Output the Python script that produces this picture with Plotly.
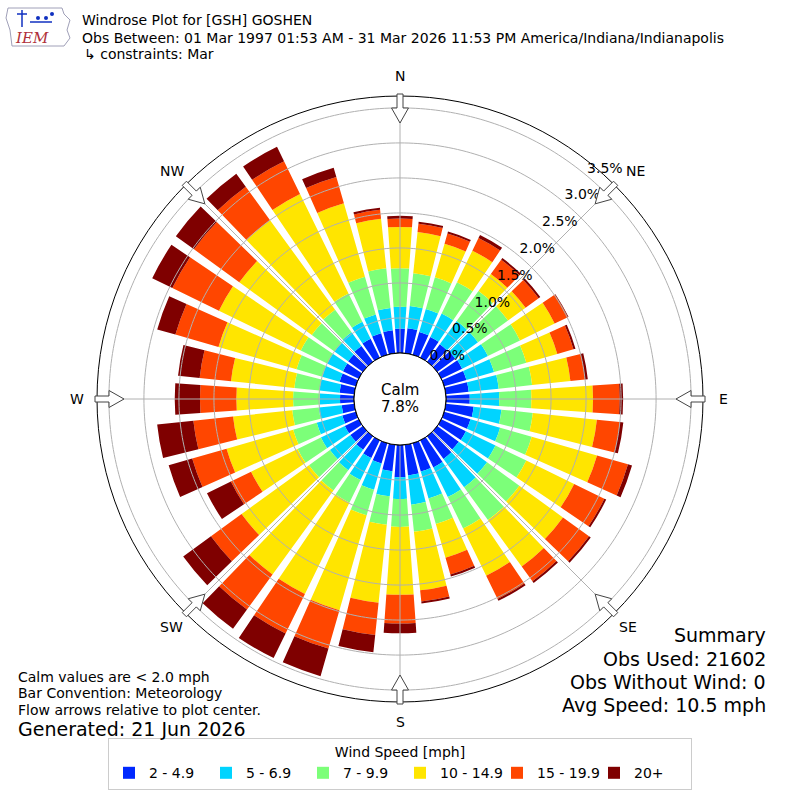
import math
import plotly.graph_objects as go

# ---------------- data (percent of observations) ----------------
directions = list(range(0, 360, 10))
speed_bins = ["2 - 4.9", "5 - 6.9", "7 - 9.9", "10 - 14.9", "15 - 19.9", "20+"]
bin_colors = ["#0028ff", "#00d4ff", "#7cff79", "#ffe500", "#ff4600", "#7f0000"]

pct_2_5 = [.35, .36, .34, .33, .31, .32, .33, .33, .33, .34,
           .40, .39, .39, .38, .40, .43, .42, .44, .46, .38,
           .30, .28, .24, .22, .22, .20, .18, .20, .21, .24,
           .25, .26, .28, .30, .32, .33]
pct_5_7 = [.31, .32, .34, .37, .41, .40, .41, .41, .43, .42,
           .40, .44, .47, .50, .50, .47, .40, .42, .31, .36,
           .39, .35, .36, .36, .38, .38, .33, .29, .29, .26,
           .25, .24, .24, .27, .28, .32]
pct_7_10 = [.55, .47, .47, .50, .53, .53, .51, .48, .48, .46,
            .45, .47, .49, .57, .58, .50, .38, .39, .40, .41,
            .38, .36, .36, .37, .37, .35, .38, .38, .36, .38,
            .42, .40, .40, .45, .56, .57]
pct_10_15 = [.59, .59, .50, .50, .30, .31, .55, .46, .55, .88,
             .92, .97, .76, .77, .82, .75, .50, .84, .97, 1.12,
             1.41, 1.45, 1.48, 1.19, .74, .99, .85, .81, .91, 1.16,
             1.30, 1.28, 1.58, 1.58, 1.09, .71]
pct_15_20 = [.12, .12, .15, .20, .25, .23, .21, .24, .21, .38,
             .33, .46, .48, .46, .26, .37, .25, .16, .41, .46,
             .57, .63, .62, .54, .32, .51, .57, .52, .45, .64,
             .74, .80, .59, .52, .39, .13]
pct_20p = [.04, .03, .03, .05, .03, .03, .01, .03, .04, .05,
           .05, .06, .03, .03, .03, .03, .03, .03, .14, .25,
           .41, .39, .34, .49, .38, .35, .52, .36, .31, .27,
           .32, .32, .23, .23, .14, .03]
series = [pct_2_5, pct_5_7, pct_7_10, pct_10_15, pct_15_20, pct_20p]

radial_ticks = [0.0, 0.5, 1.0, 1.5, 2.0, 2.5, 3.0, 3.5]
radial_labels = ["0.0%", "0.5%", "1.0%", "1.5%", "2.0%", "2.5%", "3.0%", "3.5%"]
compass_angles = [0, 45, 90, 135, 180, 225, 270, 315]
compass_labels = ["N", "NE", "E", "SE", "S", "SW", "W", "NW"]
r_max = 3.67
calm_pct = "7.8%"

# ---------------- figure ----------------
fig = go.Figure()
FONT = "DejaVu Sans"

for name, vals, col in zip(speed_bins, series, bin_colors):
    fig.add_trace(go.Barpolar(
        r=vals, theta=directions, width=8, name=name,
        marker=dict(color=col, line=dict(width=0)),
        hoverinfo="skip"))

# grid drawn above the bars
circ_theta = list(range(0, 361, 1))
for rv in radial_ticks[1:]:
    fig.add_trace(go.Scatterpolar(
        r=[rv] * len(circ_theta), theta=circ_theta, mode="lines",
        line=dict(color="#b0b0b0", width=1), showlegend=False, hoverinfo="skip"))
for a in compass_angles:
    fig.add_trace(go.Scatterpolar(
        r=[0, r_max], theta=[a, a], mode="lines",
        line=dict(color="#b0b0b0", width=1), showlegend=False, hoverinfo="skip"))
# calm circle edge
fig.add_trace(go.Scatterpolar(
    r=[0] * len(circ_theta), theta=circ_theta, mode="lines",
    line=dict(color="black", width=1), showlegend=False, hoverinfo="skip"))

# radial tick labels
fig.add_trace(go.Scatterpolar(
    r=radial_ticks, theta=[40] * len(radial_ticks), mode="text",
    text=radial_labels, textposition="top right",
    textfont=dict(family=FONT, size=14, color="black"),
    showlegend=False, hoverinfo="skip"))

# flow arrows (decorations) at compass points, pointing to centre
W, H = 800, 800
CX, CY = 400.0, 399.0


def to_paper(x, y):
    return x / W, (H - y) / H


def poly(points, fill, line_col, width=1, closed=True):
    pp = [to_paper(x, y) for x, y in points]
    path = "M " + " L ".join(f"{x:.5f},{y:.5f}" for x, y in pp) + (" Z" if closed else "")
    return dict(type="path", xref="paper", yref="paper", path=path,
                fillcolor=fill, line=dict(color=line_col, width=width))


shapes = []
for a in compass_angles:
    t = math.radians(a)
    ox, oy = math.sin(t), -math.cos(t)      # outward
    dx, dy = -ox, -oy                       # inward
    px, py = math.cos(t), math.sin(t)       # perpendicular
    tx, ty = CX + ox * 305, CY + oy * 305
    loc = [(3, 0), (3, 14), (8.5, 14), (0, 29), (-8.5, 14), (-3, 14), (-3, 0)]
    shapes.append(poly([(tx + p * px + d * dx, ty + p * py + d * dy) for p, d in loc],
                       "white", "#444444"))

# rough IEM logo
shapes.append(poly([(8, 8), (62, 8), (64, 14), (70, 20), (67, 30), (70, 38), (64, 46),
                    (12, 46), (10, 30), (6, 18)], "white", "#a0a0b8"))
shapes.append(poly([(22, 10), (22, 27)], None, "#1030c0", 1.5, closed=False))
shapes.append(poly([(17, 14), (27, 14)], None, "#1030c0", 1.5, closed=False))
shapes.append(poly([(30, 22), (52, 22)], None, "#1030c0", 1.5, closed=False))
for cx, cy in [(38, 18), (46, 18), (52, 14)]:
    x0, y0 = to_paper(cx - 2, cy - 2)
    x1, y1 = to_paper(cx + 2, cy + 2)
    shapes.append(dict(type="circle", xref="paper", yref="paper", x0=x0, y0=y0, x1=x1, y1=y1,
                       fillcolor="#1030c0", line=dict(width=0)))

annotations = []


def add_text(txt, x, y, size, xanchor="left", color="black", family=FONT, style="normal"):
    xp, yp = to_paper(x, y)
    annotations.append(dict(text=txt, x=xp, y=yp, xref="paper", yref="paper",
                            xanchor=xanchor, yanchor="middle", showarrow=False,
                            font=dict(family=family, size=size, color=color, style=style)))


# compass labels just outside the rim (NE nudged clear of the 3.5% label)
for a, lab in zip(compass_angles, compass_labels):
    t = math.radians(a)
    nudge = 7 if lab == "NE" else 0
    add_text(lab, CX + 323 * math.sin(t) + nudge, CY - 323 * math.cos(t), 14, xanchor="center")

add_text("IEM", 32, 38, 15, xanchor="center", color="#b0303a", family="DejaVu Serif", style="italic")
add_text("Windrose Plot for [GSH] GOSHEN", 80, 20, 14)
add_text("Obs Between: 01 Mar 1997 01:53 AM - 31 Mar 2026 11:53 PM America/Indiana/Indianapolis", 80, 38, 14)
add_text("↳ constraints: Mar", 82, 54, 14)
add_text("Calm", 400, 390, 15, xanchor="center")
add_text(calm_pct, 400, 407, 15, xanchor="center")
add_text("Calm values are &lt; 2.0 mph", 16, 677, 14)
add_text("Bar Convention: Meteorology", 16, 693, 14)
add_text("Flow arrows relative to plot center.", 16, 710, 14)
add_text("Generated: 21 Jun 2026", 16, 729, 19)
add_text("Summary", 768, 635, 19, xanchor="right")
add_text("Obs Used: 21602", 768, 659, 19, xanchor="right")
add_text("Obs Without Wind: 0", 768, 682, 19, xanchor="right")
add_text("Avg Speed: 10.5 mph", 768, 705, 19, xanchor="right")

fig.update_layout(
    width=W, height=H,
    margin=dict(l=0, r=0, t=0, b=0),
    paper_bgcolor="white",
    font=dict(family=FONT, size=13, color="black"),
    polar=dict(
        domain=dict(x=[97 / W, 703 / W], y=[(H - 702) / H, (H - 96) / H]),
        hole=46 / 303,
        bgcolor="white",
        barmode="stack",
        radialaxis=dict(range=[0, r_max], showticklabels=False, ticks="",
                        showgrid=False, showline=False),
        angularaxis=dict(rotation=90, direction="clockwise", showgrid=False,
                         showticklabels=False, ticks="", showline=True,
                         linecolor="black", linewidth=1),
    ),
    showlegend=True,
    legend=dict(orientation="h", x=0.5, xanchor="center", y=10 / H, yanchor="bottom",
                bordercolor="#cccccc", borderwidth=1, bgcolor="white",
                font=dict(family=FONT, size=14),
                title=dict(text="Wind Speed [mph]", side="top center",
                           font=dict(family=FONT, size=14)),
                entrywidth=52, itemwidth=30, traceorder="normal"),
    shapes=shapes,
    annotations=annotations,
)

fig.write_html("out.html", config={"displayModeBar": False},
               post_script="document.body.style.margin='0px';")
